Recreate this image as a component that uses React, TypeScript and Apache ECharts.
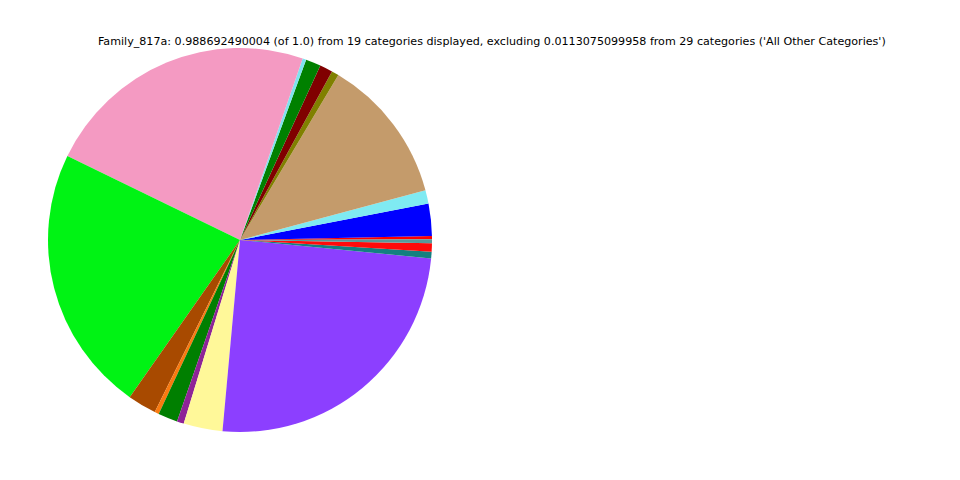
import React, { useEffect, useRef } from "react";
import * as echarts from "echarts";

const categories = [
  "c01", "c02", "c03", "c04", "c05", "c06", "c07", "c08", "c09", "c10",
  "c11", "c12", "c13", "c14", "c15", "c16", "c17", "c18", "c19",
];
const values = [
  0.0027, 0.0269, 0.011, 0.1214, 0.006, 0.0107, 0.0126, 0.003, 0.2282, 0.2222,
  0.0239, 0.0036, 0.0162, 0.0058, 0.0324, 0.2464, 0.0055, 0.0069, 0.0033,
];
const colors = [
  "#ff0000", "#0000ff", "#7feaf2", "#c49b6b", "#808000", "#800000", "#008000", "#7fe3ef",
  "#f49ac2", "#00f314", "#a84a00", "#f97a10", "#007f00", "#8e2497", "#fff899", "#8c3fff",
  "#138080", "#ff0a0a", "#579a9a",
];
const titleText =
  "Family_817a: 0.988692490004 (of 1.0) from 19 categories displayed, excluding 0.0113075099958 from 29 categories ('All Other Categories')";

export default function App() {
  const ref = useRef<HTMLDivElement>(null);
  useEffect(() => {
    if (!ref.current) return;
    const chart = echarts.init(ref.current, null, { renderer: "svg" });
    chart.setOption({
      animation: false,
      backgroundColor: "#ffffff",
      title: {
        text: titleText,
        left: 93,
        top: 31,
        textStyle: {
          fontFamily: "DejaVu Sans",
          fontSize: 11.12,
          fontWeight: "normal",
          color: "#000000",
        },
      },
      series: [
        {
          type: "pie",
          center: [240, 240],
          radius: [0, 192],
          startAngle: 0.2,
          clockwise: false,
          label: { show: false },
          labelLine: { show: false },
          emphasis: { disabled: true },
          itemStyle: { borderWidth: 0 },
          data: categories.map((c, i) => ({
            name: c,
            value: values[i],
            itemStyle: { color: colors[i] },
          })),
        },
      ],
    });
    return () => chart.dispose();
  }, []);
  return (
    <div
      ref={ref}
      style={{ position: "fixed", left: 0, top: 0, width: 960, height: 480 }}
    />
  );
}
